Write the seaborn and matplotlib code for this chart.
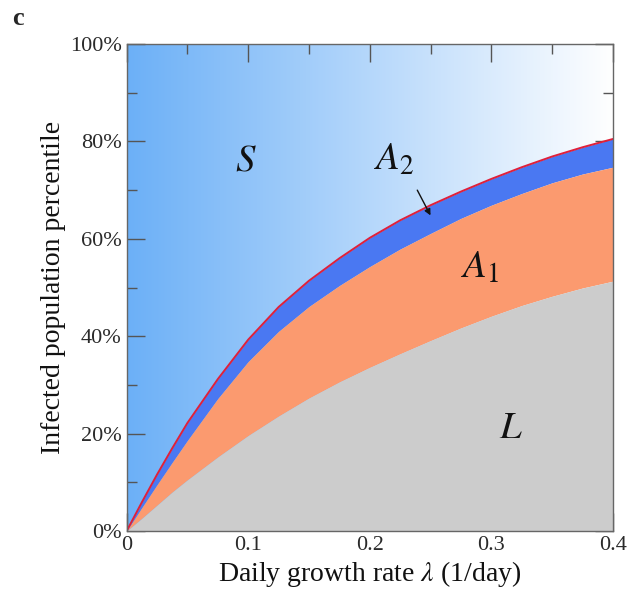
import numpy as np
import pandas as pd
import matplotlib
matplotlib.use("Agg")
import matplotlib.pyplot as plt
import seaborn as sns
from matplotlib.colors import LinearSegmentedColormap
from matplotlib.ticker import MultipleLocator, FuncFormatter

# ---- data (growth rate vs. percentile boundaries) ----
growth_rate = [0.0, 0.0125, 0.025, 0.0375, 0.05, 0.075, 0.1, 0.125, 0.15, 0.175,
               0.2, 0.225, 0.25, 0.275, 0.3, 0.325, 0.35, 0.375, 0.4]
# red line: S / A2 boundary (%)
s_lower = [0.0, 5.9, 11.6, 17.0, 22.2, 31.2, 39.3, 46.0, 51.4, 56.0,
           60.2, 63.8, 66.9, 69.7, 72.3, 74.7, 76.9, 78.8, 80.5]
# A2 / A1 boundary (%)
a1_upper = [0.0, 4.8, 9.5, 14.1, 18.6, 27.2, 34.8, 41.0, 46.1, 50.4,
            54.3, 57.9, 61.1, 64.2, 66.9, 69.3, 71.5, 73.3, 74.7]
# A1 / L boundary (%)
l_upper = [0.0, 2.6, 5.3, 8.0, 10.5, 15.2, 19.6, 23.6, 27.3, 30.6,
           33.6, 36.4, 39.1, 41.7, 44.1, 46.3, 48.2, 49.9, 51.3]

x_ticks = [0, 0.1, 0.2, 0.3, 0.4]
x_tick_labels = ["0", "0.1", "0.2", "0.3", "0.4"]
y_ticks = [0, 20, 40, 60, 80, 100]

df = pd.DataFrame({"rate": growth_rate, "s": s_lower, "a1": a1_upper, "l": l_upper})

sns.set_theme(style="ticks")
plt.rcParams["font.family"] = ["Liberation Serif", "DejaVu Serif"]
plt.rcParams["mathtext.fontset"] = "stix"

fig = plt.figure(figsize=(6.28, 6.03), dpi=100)
ax = fig.add_axes([0.2017, 0.1194, 0.7743, 0.8076])

# background gradient for S region
cmap = LinearSegmentedColormap.from_list("sgrad", ["#6cb0f7", "#ffffff"])
grad = np.linspace(0, 1, 256).reshape(1, -1)
ax.imshow(grad, extent=[0, 0.4, 0, 100], aspect="auto", cmap=cmap, zorder=0, origin="lower")

ax.fill_between(df["rate"], df["a1"], df["s"], color="#4a78f2", lw=0, zorder=1)
ax.fill_between(df["rate"], df["l"], df["a1"], color="#fb9a6f", lw=0, zorder=1)
ax.fill_between(df["rate"], 0, df["l"], color="#cccccc", lw=0, zorder=1)
sns.lineplot(data=df, x="rate", y="s", color="#e0203a", lw=1.4, ax=ax, zorder=3)

ax.set_xlim(0, 0.4)
ax.set_ylim(0, 100)
ax.set_xticks(x_ticks)
ax.set_xticklabels(x_tick_labels)
ax.set_yticks(y_ticks)
ax.yaxis.set_major_formatter(FuncFormatter(lambda v, p: f"{int(v)}%"))
ax.xaxis.set_minor_locator(MultipleLocator(0.05))
ax.yaxis.set_minor_locator(MultipleLocator(10))
ax.tick_params(which="both", direction="in", top=True, right=True, colors="#555555",
               labelcolor="#2a2a2a", labelsize=16, width=1)
ax.tick_params(which="major", length=13)
ax.tick_params(which="minor", length=7)
for sp in ax.spines.values():
    sp.set_color("#666666")
    sp.set_linewidth(1)
    sp.set_zorder(5)

ax.set_xlabel(r"Daily growth rate $\lambda$ (1/day)", fontsize=20, color="#111111", labelpad=3)
ax.set_ylabel("Infected population percentile", fontsize=20, color="#111111", labelpad=3)

txt_kw = dict(fontsize=28, color="#111111", ha="center", va="center", zorder=6)
ax.text(0.098, 76, r"$S$", **txt_kw)
ax.text(0.22, 76, r"$A_2$", **txt_kw)
ax.text(0.291, 54, r"$A_1$", **txt_kw)
ax.text(0.316, 21, r"$L$", **txt_kw)
ax.annotate("", xy=(0.251, 64.3), xytext=(0.238, 70.5),
            arrowprops=dict(arrowstyle="-|>", color="#111111", lw=1, mutation_scale=9), zorder=6)

fig.text(0.02, 0.988, "c", fontsize=19, fontweight="bold", ha="left", va="top")

fig.savefig("out.png", dpi=100)
